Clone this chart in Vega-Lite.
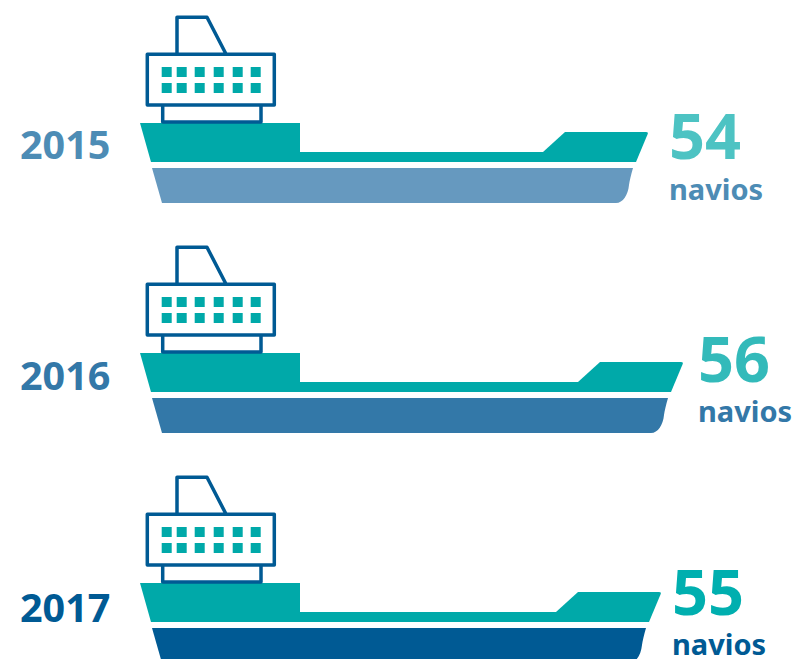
{"$schema":"https://vega.github.io/schema/vega-lite/v6.json","width":795,"height":659,"padding":0,"autosize":"none","background":"white","config":{"view":{"stroke":null}},"data":{"values":[{"ano":2015,"navios":54},{"ano":2016,"navios":56},{"ano":2017,"navios":55}]},"resolve":{"scale":{"x":"independent","y":"independent","color":"independent"}},"layer":[{"encoding":{"y":{"field":"ano","type":"ordinal","axis":null,"scale":{"type":"point","domain":[2015,2016,2017],"range":[123,583],"padding":0}}},"layer":[{"mark":{"type":"bar","orient":"horizontal","height":35,"yOffset":62.5,"xOffset":-60,"x2Offset":155},"encoding":{"x":{"field":"navios","type":"quantitative","axis":null,"scale":{"domain":[0,54,55,56],"range":[140,648,661,683],"nice":false,"zero":false}},"x2":{"datum":0},"color":{"field":"ano","type":"ordinal","legend":null,"scale":{"domain":[2015,2016,2017],"range":["#6699bf","#3378a8","#005a94"]}}}},{"mark":{"type":"point","shape":"M12,45 L160,45 L160,80 L22,80 Z","size":4,"filled":true,"opacity":1,"strokeWidth":0},"encoding":{"x":{"datum":0,"type":"quantitative"},"color":{"field":"ano","type":"ordinal","legend":null}}},{"mark":{"type":"point","shape":"M-70,45 L-15,45 C-17,52 -18.5,58 -19,62 C-20,72 -25,80 -32,80 L-70,80 Z","size":4,"filled":true,"opacity":1,"strokeWidth":0},"encoding":{"x":{"field":"navios","type":"quantitative"},"color":{"field":"ano","type":"ordinal","legend":null}}},{"mark":{"type":"bar","orient":"horizontal","height":10,"yOffset":34,"xOffset":-60,"x2Offset":155,"color":"#00a9a9"},"encoding":{"x":{"field":"navios","type":"quantitative"},"x2":{"datum":0}}},{"mark":{"type":"point","shape":"M0,0 L160,0 L160,39 L11,39 Z","size":4,"filled":true,"opacity":1,"strokeWidth":0,"color":"#00a9a9"},"encoding":{"x":{"datum":0,"type":"quantitative"}}},{"mark":{"type":"point","shape":"M-105,29 L-83,9 L-2,9 Q0.5,9 -0.3,11 L-12,39 L-105,39 Z","size":4,"filled":true,"opacity":1,"strokeWidth":0,"color":"#00a9a9"},"encoding":{"x":{"field":"navios","type":"quantitative"}}},{"mark":{"type":"point","shape":"M21.7,-56 h10 v10 h-10 Z M36.7,-56 h10 v10 h-10 Z M54.7,-56 h10 v10 h-10 Z M73.7,-56 h10 v10 h-10 Z M92.7,-56 h10 v10 h-10 Z M110.7,-56 h10 v10 h-10 Z M21.7,-40 h10 v10 h-10 Z M36.7,-40 h10 v10 h-10 Z M54.7,-40 h10 v10 h-10 Z M73.7,-40 h10 v10 h-10 Z M92.7,-40 h10 v10 h-10 Z M110.7,-40 h10 v10 h-10 Z","size":4,"filled":true,"opacity":1,"strokeWidth":0,"color":"#00a9a9"},"encoding":{"x":{"datum":0,"type":"quantitative"}}},{"mark":{"type":"point","shape":"M37,-69 L37,-105.7 L67,-105.7 L86,-69 M7.3,-68.7 L134.3,-68.7 L134.3,-18 L7.3,-18 Z M22.7,-18 L22.7,-1 L121,-1 L121,-18","size":4,"filled":false,"opacity":1,"stroke":"#005a94","strokeWidth":3.5,"strokeJoin":"round"},"encoding":{"x":{"datum":0,"type":"quantitative"}}}]},{"mark":{"type":"text","align":"left","baseline":"alphabetic","font":"Noto Sans","fontWeight":"bold","fontSize":39.5},"encoding":{"x":{"field":"ano","type":"quantitative","axis":null,"scale":{"domain":[2015,2017],"range":[20,20]}},"y":{"field":"ano","type":"quantitative","axis":null,"scale":{"domain":[2015,2016,2017],"range":[158.5,390,622]}},"text":{"field":"ano","type":"nominal"},"color":{"field":"ano","type":"ordinal","legend":null,"scale":{"domain":[2015,2016,2017],"range":["#4d8cb5","#3378a8","#005a94"]}}}},{"mark":{"type":"text","align":"left","baseline":"alphabetic","font":"Noto Sans","fontWeight":"bold","fontSize":63},"encoding":{"x":{"field":"navios","type":"quantitative","axis":null,"scale":{"domain":[54,55,56],"range":[669,672,698],"nice":false,"zero":false}},"y":{"field":"ano","type":"quantitative","axis":null,"scale":{"domain":[2015,2016,2017],"range":[159,382,615],"nice":false,"zero":false}},"text":{"field":"navios","type":"nominal"},"color":{"field":"ano","type":"ordinal","legend":null,"scale":{"domain":[2015,2016,2017],"range":["#4dc3c3","#33baba","#00afaf"]}}}},{"mark":{"type":"text","align":"left","baseline":"alphabetic","font":"Noto Sans","fontWeight":"bold","fontSize":29,"text":"navios"},"encoding":{"x":{"field":"navios","type":"quantitative","axis":null,"scale":{"domain":[54,55,56],"range":[669,672,698],"nice":false,"zero":false}},"y":{"field":"ano","type":"quantitative","axis":null,"scale":{"domain":[2015,2016,2017],"range":[200,422,655],"nice":false,"zero":false}},"color":{"field":"ano","type":"ordinal","legend":null,"scale":{"domain":[2015,2016,2017],"range":["#4d8cb5","#3378a8","#005a94"]}}}}]}
